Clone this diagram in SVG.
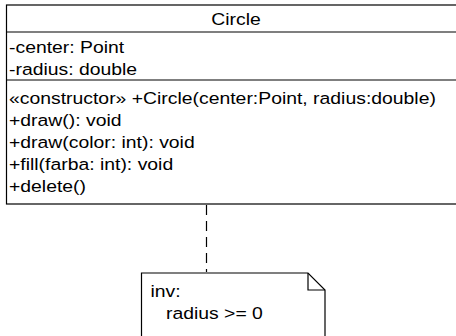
<svg xmlns="http://www.w3.org/2000/svg" width="456" height="336" viewBox="0 0 456 336">
<style>
.shape{fill:#fff;stroke:#000;stroke-width:1.2}
.line{fill:none;stroke:#000;stroke-width:1.2}
.t{font-family:"Liberation Sans",Arial,sans-serif;font-size:17px;fill:#000}
.dash{fill:none;stroke:#000;stroke-width:1.2;stroke-dasharray:10 6}
</style>
<rect width="456" height="336" fill="#fff"/>
<g id="connectors">
<line class="dash" x1="206.5" y1="205" x2="206.5" y2="272"/>
</g>
<g id="circle-class">
<rect class="shape" x="6.5" y="5" width="470" height="199"/>
<line class="line" x1="6.5" y1="32" x2="476" y2="32"/>
<line class="line" x1="6.5" y1="80" x2="476" y2="80"/>
<g transform="scale(1.14 1)">
<text class="t" x="207" y="25" text-anchor="middle">Circle</text>
<text class="t" x="7.9" y="53">-center: Point</text>
<text class="t" x="7.9" y="75">-radius: double</text>
<text class="t" x="7.9" y="104">«constructor» +Circle(center:Point, radius:double)</text>
<text class="t" x="7.9" y="126">+draw(): void</text>
<text class="t" x="7.9" y="148">+draw(color: int): void</text>
<text class="t" x="7.9" y="170">+fill(farba: int): void</text>
<text class="t" x="7.9" y="192">+delete()</text>
</g>
</g>
<g id="note">
<path class="shape" d="M141.5,273 L308,273 L325,290 L325,340 L141.5,340 Z"/>
<path class="line" d="M308,273 L308,290 L325,290"/>
<g transform="scale(1.14 1)">
<text class="t" x="132" y="297">inv:</text>
<text class="t" x="145.6" y="319">radius &gt;= 0</text>
</g>
</g>
</svg>
